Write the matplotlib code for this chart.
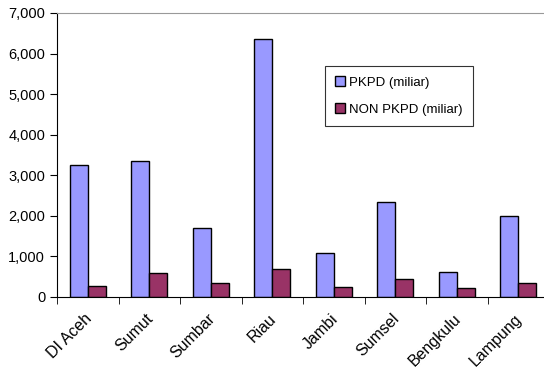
import matplotlib.pyplot as plt
import numpy as np

plt.rcParams['font.family'] = ['Liberation Sans', 'DejaVu Sans']

provinces = ['DI Aceh', 'Sumut', 'Sumbar', 'Riau', 'Jambi', 'Sumsel', 'Bengkulu', 'Lampung']
pkpd = [3250, 3350, 1700, 6370, 1085, 2340, 615, 2000]
non_pkpd = [270, 590, 345, 700, 250, 445, 210, 345]

fig = plt.figure(figsize=(5.44, 3.70), dpi=100)
ax = fig.add_axes([57/544, 73/370, 492/544, 284/370])

x = np.arange(len(provinces))
w = 0.29
ax.bar(x - w/2, pkpd, w, color='#9999FF', edgecolor='black', linewidth=1, label='PKPD (miliar)')
ax.bar(x + w/2, non_pkpd, w, color='#993366', edgecolor='black', linewidth=1, label='NON PKPD (miliar)')

ax.set_xlim(-0.5, len(provinces) - 0.5)
ax.set_ylim(0, 7000)
ax.set_yticks(range(0, 7001, 1000))
ax.set_yticklabels([f'{v:,}' for v in range(0, 7001, 1000)], fontsize=10.5)

ax.set_xticks(x - 0.06)
ax.set_xticklabels(provinces, rotation=45, ha='right', rotation_mode='anchor', fontsize=11.5)
ax.tick_params(axis='x', length=0, pad=10)
ax.set_xticks(np.arange(-0.5, len(provinces), 1), minor=True)
ax.tick_params(axis='x', which='minor', length=5, direction='out', color='black')
ax.tick_params(axis='y', length=5, direction='out')

ax.spines['right'].set_visible(False)
ax.spines['top'].set_color('#999999')
ax.spines['left'].set_color('black')
ax.spines['bottom'].set_color('black')

leg = fig.legend(loc='upper left', bbox_to_anchor=(325/544, 1 - 66/370), fontsize=9.5,
                 frameon=True, fancybox=False, edgecolor='black', handlelength=0.8,
                 handleheight=0.8, handletextpad=0.3, borderpad=0.75, labelspacing=1.1,
                 borderaxespad=0)
leg.get_frame().set_linewidth(0.8)

fig.savefig('out.png', dpi=100)
